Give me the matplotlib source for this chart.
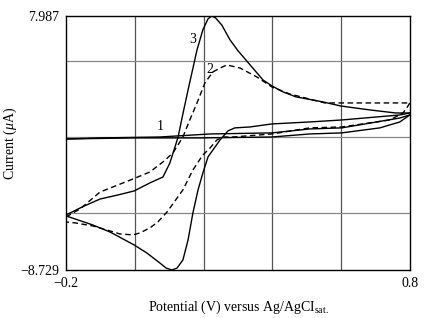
import matplotlib
matplotlib.use('Agg')
import matplotlib.pyplot as plt

plt.rcParams['font.family'] = ['Liberation Serif', 'DejaVu Serif']
plt.rcParams['mathtext.fontset'] = 'custom'
plt.rcParams['mathtext.rm'] = 'Liberation Serif'
plt.rcParams['mathtext.it'] = 'Liberation Serif:italic'

# curve 1 (background, solid)
c1_fwd_E = [-0.2, -0.002, 0.19, 0.399, 0.509, 0.602, 0.713, 0.771, 0.8]
c1_fwd_I = [-0.11, -0.04, -0.04, 0.02, 0.22, 0.29, 0.62, 1.01, 1.47]
c1_rev_E = [0.8, 0.771, 0.602, 0.509, 0.399, 0.219, 0.073, -0.101, -0.2]
c1_rev_I = [1.47, 1.27, 0.62, 0.55, 0.29, 0.22, 0.02, -0.04, -0.11]

# curve 2 (dashed)
c2_fwd_E = [-0.2, -0.159, -0.101, -0.005, 0.044, 0.082, 0.111, 0.140, 0.160, 0.181,
            0.204, 0.227, 0.248, 0.268, 0.306, 0.355, 0.399, 0.451, 0.518, 0.553, 0.599, 0.8]
c2_fwd_I = [-5.24, -4.71, -3.60, -2.74, -2.28, -1.62, -1.03, 0.02, 1.14, 2.26,
            3.58, 4.30, 4.56, 4.76, 4.56, 3.97, 3.31, 2.85, 2.46, 2.26, 2.26, 2.26]
c2_rev_E = [0.8, 0.791, 0.780, 0.742, 0.602, 0.509, 0.399, 0.285, 0.256, 0.239, 0.219,
            0.198, 0.169, 0.140, 0.094, 0.067, 0.044, 0.015, -0.005, -0.043, -0.072,
            -0.122, -0.174, -0.2]
c2_rev_I = [2.26, 1.93, 1.60, 1.14, 0.68, 0.62, 0.22, 0.02, 0.02, -0.17, -0.70,
            -1.16, -2.15, -3.46, -4.91, -5.57, -5.96, -6.29, -6.42, -6.36, -6.16,
            -5.83, -5.63, -5.57]

# curve 3 (solid)
c3_fwd_E = [-0.2, -0.15, -0.101, -0.05, -0.002, 0.044, 0.082, 0.102, 0.117, 0.126,
            0.140, 0.155, 0.181, 0.198, 0.213, 0.224, 0.235, 0.253, 0.277, 0.300,
            0.323, 0.373, 0.399, 0.430, 0.469, 0.547, 0.599, 0.684, 0.759, 0.8]
c3_fwd_I = [-5.11, -4.55, -4.06, -3.80, -3.53, -3.00, -2.61, -1.69, -0.63, 0.02,
            1.55, 3.12, 5.75, 7.07, 7.79, 7.987, 7.85, 7.39, 6.41, 5.70,
            5.09, 3.77, 3.38, 3.00, 2.66, 2.33, 2.06, 1.80, 1.60, 1.60]
c3_rev_E = [0.8, 0.771, 0.602, 0.509, 0.399, 0.335, 0.291, 0.271, 0.248, 0.213,
            0.198, 0.184, 0.169, 0.155, 0.140, 0.123, 0.108, 0.091, 0.073, 0.035,
            -0.002, -0.072, -0.122, -0.2]
c3_rev_I = [1.60, 1.47, 1.14, 1.01, 0.88, 0.68, 0.62, 0.42, -0.17, -1.29,
            -2.35, -3.46, -4.98, -6.75, -8.07, -8.60, -8.729, -8.60, -8.27, -7.61,
            -7.08, -6.23, -5.77, -5.17]

labels = ['1', '2', '3']
label_E = [0.073, 0.219, 0.169]
label_I = [0.72, 4.43, 6.41]

fig = plt.figure(figsize=(4.26, 3.18), dpi=100)
ax = fig.add_axes([0.155, 0.151, 0.807, 0.799])

for x in [0.0, 0.2, 0.4, 0.6]:
    ax.axvline(x, color='#555555', lw=0.9, zorder=1)
for y in [-5, 0, 5]:
    ax.axhline(y, color='#888888', lw=0.9, zorder=1)

ax.plot(c1_fwd_E, c1_fwd_I, color='black', lw=1.0)
ax.plot(c1_rev_E, c1_rev_I, color='black', lw=1.0)
ax.plot(c2_fwd_E, c2_fwd_I, color='black', lw=1.0, dashes=(4, 2.5))
ax.plot(c2_rev_E, c2_rev_I, color='black', lw=1.0, dashes=(4, 2.5))
ax.plot(c3_fwd_E, c3_fwd_I, color='black', lw=1.0)
ax.plot(c3_rev_E, c3_rev_I, color='black', lw=1.0)

for t, x, y in zip(labels, label_E, label_I):
    ax.text(x, y, t, fontsize=10, ha='center', va='center')

ax.set_xlim(-0.2, 0.8)
ax.set_ylim(-8.729, 7.987)
ax.set_xticks([-0.2, 0.8])
ax.set_xticklabels(['\u22120.2', '0.8'], fontsize=10)
ax.set_yticks([-8.729, 7.987])
ax.set_yticklabels(['\u22128.729', '7.987'], fontsize=10)
ax.tick_params(length=0, pad=5)
for s in ax.spines.values():
    s.set_linewidth(1.0)

ax.set_xlabel(r'Potential (V) versus Ag/AgCI$_{\mathrm{sat.}}$', fontsize=10, labelpad=6)
ax.set_ylabel(r'Current ($\mu$A)', fontsize=10, labelpad=1)

plt.savefig('out.png', dpi=100)
